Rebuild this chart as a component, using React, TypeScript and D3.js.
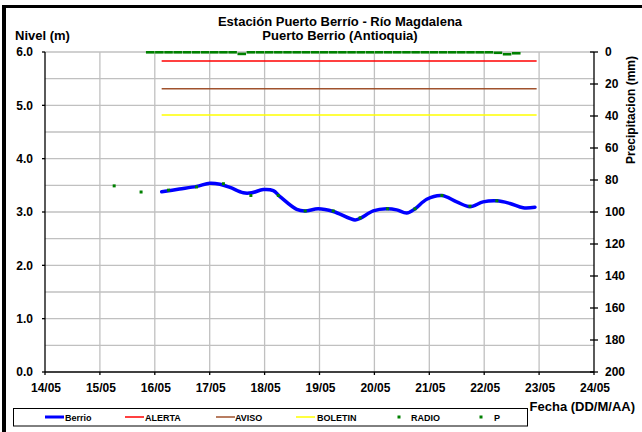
import React from 'react';
import * as d3 from 'd3';

const W = 642;
const H = 432;

// ---- data ----
const dayTicks = [14, 15, 16, 17, 18, 19, 20, 21, 22, 23, 24];
const dayLabels = ['14/05', '15/05', '16/05', '17/05', '18/05', '19/05', '20/05', '21/05', '22/05', '23/05', '24/05'];
const levelTicks = [0, 1, 2, 3, 4, 5, 6];
const levelGrid = [0.5, 1, 1.5, 2, 2.5, 3, 3.5, 4, 4.5, 5, 5.5, 6];
const precipTicks = [0, 20, 40, 60, 80, 100, 120, 140, 160, 180, 200];

const berrioDay = [16.126, 16.45, 16.763, 17.005, 17.188, 17.37, 17.612, 17.765, 17.976, 18.158, 18.28, 18.585, 18.736, 18.978, 19.251, 19.647, 19.738, 19.98, 20.224, 20.406, 20.588, 20.74, 20.953, 21.226, 21.5, 21.74, 21.98, 22.23, 22.47, 22.71, 22.925];
const berrioLevel = [3.38, 3.43, 3.48, 3.54, 3.52, 3.46, 3.36, 3.36, 3.42, 3.40, 3.29, 3.05, 3.02, 3.06, 3.01, 2.85, 2.88, 3.02, 3.06, 3.04, 2.98, 3.06, 3.24, 3.31, 3.19, 3.10, 3.19, 3.21, 3.16, 3.08, 3.09];

const radioDay = [15.26, 15.75, 16.25, 16.76, 17.25, 17.75, 18.25, 18.74, 19.25, 19.74, 20.24, 20.74, 21.23, 21.74, 22.23];
const radioLevel = [3.49, 3.375, 3.41, 3.47, 3.53, 3.31, 3.31, 3.02, 3.02, 2.89, 3.06, 3.06, 3.31, 3.11, 3.21];

const thresholdFrom = 16.125;
const thresholdTo = 22.955;
const alertaLevel = 5.83;
const avisoLevel = 5.31;
const boletinLevel = 4.82;

const precipStartDay = 15.917;
const precipStepDay = 1 / 6;
const precipValues = [
  0, 0, 0, 0, 0, 0, 0, 0, 0, 0,
  1.0, 0, 0, 0, 0, 0, 0, 0, 0, 0,
  0, 0, 0, 0, 0, 0, 0, 0, 0, 0,
  0, 0, 0, 0, 0, 0, 0, 0, 0.3, 1.2,
  0.6,
];

const legendItems = [
  { name: 'Berrio', kind: 'line', color: '#0000FF', width: 3 },
  { name: 'ALERTA', kind: 'line', color: '#FF0000', width: 1.5 },
  { name: 'AVISO', kind: 'line', color: '#A0522D', width: 1.5 },
  { name: 'BOLETIN', kind: 'line', color: '#FFFF00', width: 1.5 },
  { name: 'RADIO', kind: 'dot', color: '#008000', width: 0 },
  { name: 'P', kind: 'dot', color: '#008000', width: 0 },
];
const legendX = [45, 125, 216, 296, 399, 481];
const legendTextX = [65, 145, 235, 317, 411, 494];

const FONT = '"Liberation Sans", Arial, sans-serif';

export default function App() {
  const x = d3.scaleLinear().domain([14, 24]).range([45, 594]);
  const y = d3.scaleLinear().domain([0, 6]).range([372, 52]);
  const yp = d3.scaleLinear().domain([0, 200]).range([52, 372]);

  const berrioPts: [number, number][] = berrioDay.map((d, i) => [x(d), y(berrioLevel[i])]);
  const berrioPath = d3.line().curve(d3.curveCatmullRom.alpha(0.5))(berrioPts) || '';

  const thresholds = [
    { v: alertaLevel, c: '#FF0000' },
    { v: avisoLevel, c: '#A0522D' },
    { v: boletinLevel, c: '#FFFF00' },
  ];

  return (
    <svg width={W} height={H} style={{ position: 'absolute', left: 0, top: 0, background: '#fff' }} fontFamily={FONT}>
      <rect x={0} y={0} width={W} height={H} fill="#fff" />
      {/* frame */}
      <line x1={4} y1={5} x2={4} y2={H} stroke="#000" strokeWidth={4} />
      <line x1={2} y1={6.5} x2={W} y2={6.5} stroke="#000" strokeWidth={3} />

      {/* grid */}
      {levelGrid.map((v) => (
        <line key={'h' + v} x1={x(14)} x2={x(24)} y1={y(v)} y2={y(v)} stroke="#C0C0C0" strokeWidth={1.3} />
      ))}
      {dayTicks.slice(1, -1).map((d) => (
        <line key={'v' + d} x1={x(d)} x2={x(d)} y1={y(0)} y2={y(6)} stroke="#C0C0C0" strokeWidth={1.3} />
      ))}

      {/* thresholds */}
      {thresholds.map((t) => (
        <line key={t.c} x1={x(thresholdFrom)} x2={x(thresholdTo)} y1={y(t.v)} y2={y(t.v)} stroke={t.c} strokeWidth={1.5} />
      ))}

      {/* precipitation markers */}
      {precipValues.map((p, i) => {
        const cx = x(precipStartDay + i * precipStepDay);
        return <rect key={'p' + i} x={cx - 4.3} y={yp(p) - 1} width={8.6} height={2.6} fill="#008000" />;
      })}

      {/* Berrio line */}
      <path d={berrioPath} fill="none" stroke="#0000FF" strokeWidth={3.5} strokeLinejoin="round" strokeLinecap="round" />

      {/* radio dots */}
      {radioDay.map((d, i) => (
        <rect key={'r' + i} x={x(d) - 1.5} y={y(radioLevel[i]) - 1.5} width={3} height={3} fill="#008000" />
      ))}

      {/* axes */}
      <line x1={x(14)} x2={x(14)} y1={y(0)} y2={y(6)} stroke="#000" strokeWidth={1.3} />
      <line x1={x(24)} x2={x(24)} y1={y(0)} y2={y(6)} stroke="#000" strokeWidth={1.3} />
      <line x1={x(14)} x2={x(24)} y1={y(0)} y2={y(0)} stroke="#000" strokeWidth={1.3} />

      {levelTicks.map((v) => (
        <g key={'yl' + v}>
          <line x1={x(14) - 3} x2={x(14)} y1={y(v)} y2={y(v)} stroke="#000" strokeWidth={1.3} />
          <text x={33} y={y(v)} dy="0.36em" textAnchor="end" fontSize={12} fontWeight="bold">{v.toFixed(1)}</text>
        </g>
      ))}

      {dayTicks.map((d, i) => (
        <g key={'xl' + d}>
          <line x1={x(d)} x2={x(d)} y1={y(0)} y2={y(0) + 3} stroke="#000" strokeWidth={1.3} />
          <text x={x(d) + 1} y={392} textAnchor="middle" fontSize={12} fontWeight="bold">{dayLabels[i]}</text>
        </g>
      ))}

      {precipTicks.map((v) => (
        <g key={'pr' + v}>
          <line x1={x(24) - 4} x2={x(24) + 4} y1={yp(v)} y2={yp(v)} stroke="#000" strokeWidth={1.3} />
          <text x={605} y={yp(v)} dy="0.36em" textAnchor="start" fontSize={12} fontWeight="bold">{v}</text>
        </g>
      ))}

      {/* titles */}
      <text x={340} y={26} textAnchor="middle" fontSize={13} fontWeight="bold">Estación Puerto Berrío - Río Magdalena</text>
      <text x={340} y={39.5} textAnchor="middle" fontSize={13} fontWeight="bold">Puerto Berrio (Antioquia)</text>
      <text x={15} y={40} fontSize={13} fontWeight="bold">Nivel (m)</text>
      <text x={635} y={411} textAnchor="end" fontSize={13} fontWeight="bold">Fecha (DD/M/AA)</text>
      <text transform={`translate(635,110) rotate(-90)`} textAnchor="middle" fontSize={12} fontWeight="bold">Precipitacion (mm)</text>

      {/* legend */}
      <rect x={13.5} y={408.5} width={514} height={17.5} fill="#fff" stroke="#000" strokeWidth={1} />
      {legendItems.map((it, i) => (
        <g key={it.name}>
          {it.kind === 'line' ? (
            <line x1={legendX[i]} x2={legendX[i] + 19} y1={417} y2={417} stroke={it.color} strokeWidth={it.width} />
          ) : (
            <rect x={legendX[i] - 1.5} y={415.5} width={3} height={3} fill={it.color} />
          )}
          <text x={legendTextX[i]} y={420.5} fontSize={9} fontWeight="bold">{it.name}</text>
        </g>
      ))}
    </svg>
  );
}
